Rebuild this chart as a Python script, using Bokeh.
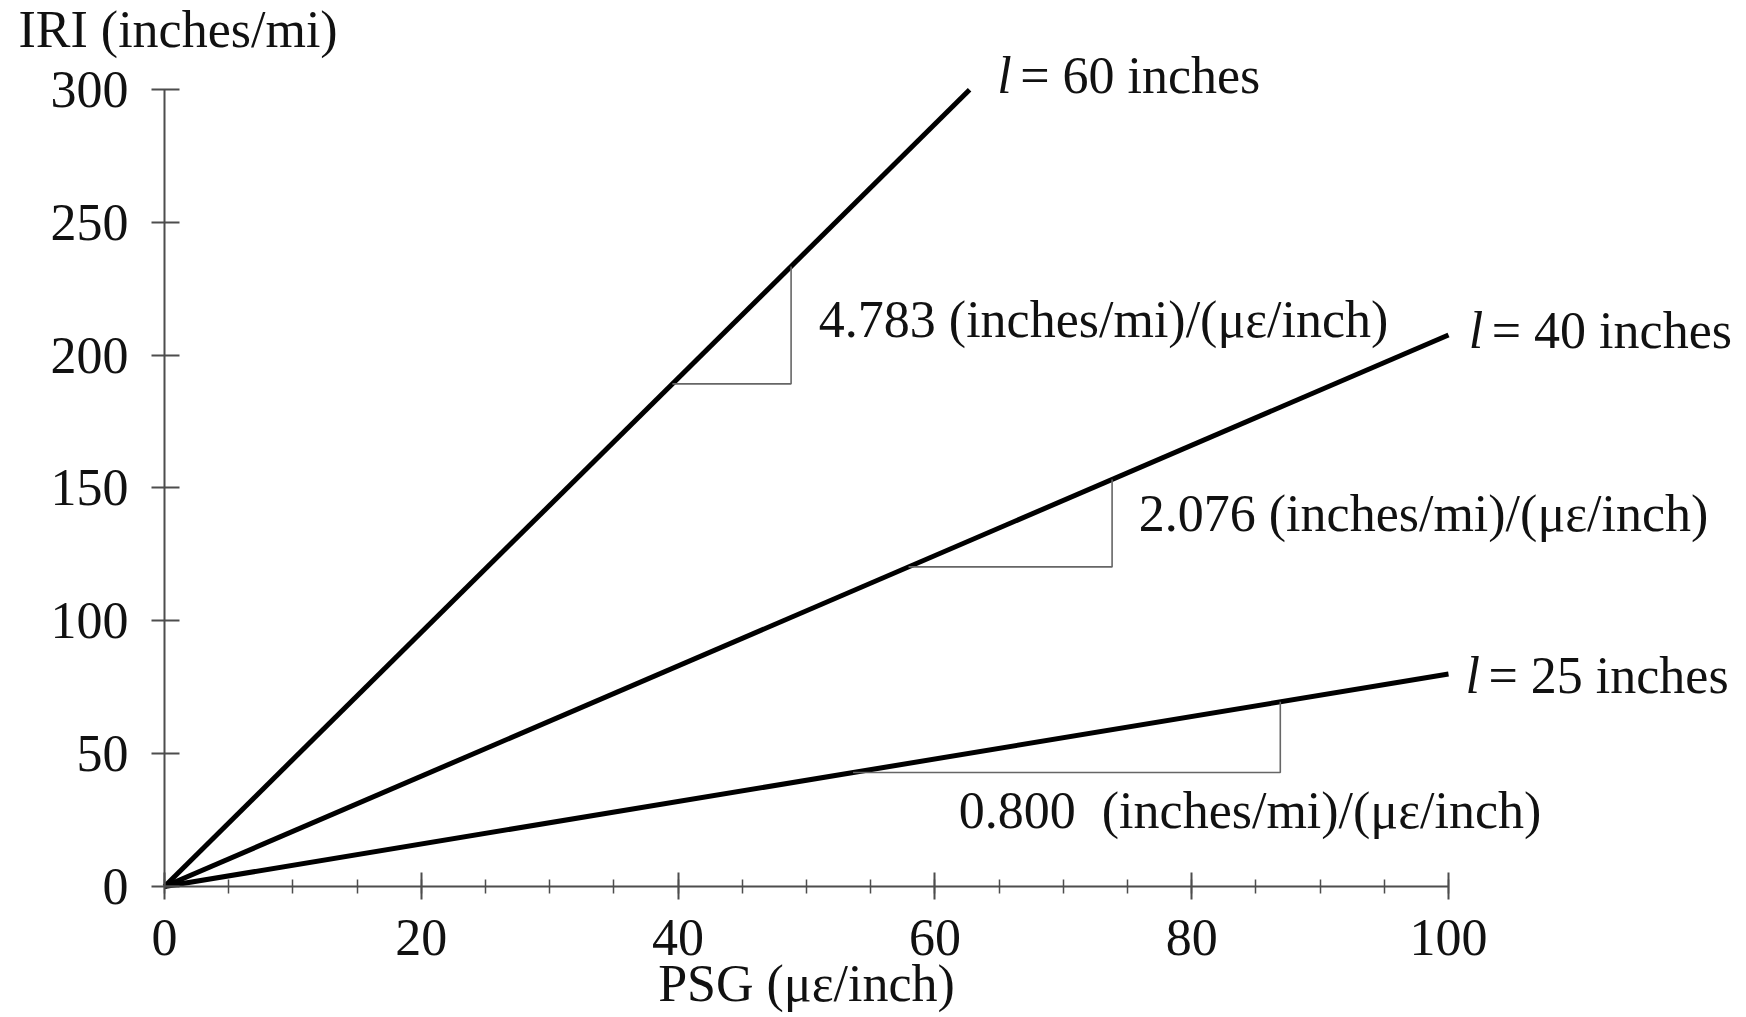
from bokeh.plotting import figure
from bokeh.models import Label, FixedTicker, Range1d
from bokeh.embed import file_html
from bokeh.resources import INLINE

# ---- data ----
gauge_lengths = ["60", "40", "25"]          # l (inches)
slopes = [4.783, 2.076, 0.800]              # (inches/mi)/(µε/inch)
psg_start = [0, 0, 0]
psg_end = [62.7, 100, 100]                  # µε/inch where each line stops
slope_texts = ["4.783 (inches/mi)/(\u03bc\u03b5/inch)",
               "2.076 (inches/mi)/(\u03bc\u03b5/inch)",
               "0.800\u00a0 (inches/mi)/(\u03bc\u03b5/inch)"]
tri_base_iri = [189.2, 120.3, 42.9]         # slope-triangle base level
tri_run_end = [48.8, 73.8, 86.9]            # slope-triangle vertical leg
x_ticks = [0, 20, 40, 60, 80, 100]
x_minor = list(range(0, 101, 5))
y_ticks = [0, 50, 100, 150, 200, 250, 300]

FONT = "Liberation Serif"
FS = "52px"
TXT = "#111111"
AX = "#4d4d4d"

# frame covers the whole canvas; axes are pinned at x=0 / y=0
p = figure(width=1746, height=1017, output_backend="svg", toolbar_location=None,
           x_range=Range1d(-12.773, 123.209), y_range=Range1d(-49.31, 333.50))
p.min_border = 0
p.min_border_left = 0
p.min_border_right = 0
p.min_border_top = 0
p.min_border_bottom = 0
p.title.visible = False
p.outline_line_color = None
p.xgrid.visible = False
p.ygrid.visible = False
p.background_fill_color = "white"
p.border_fill_color = "white"

# axes
p.xaxis.ticker = FixedTicker(ticks=x_ticks, minor_ticks=x_minor)
p.yaxis.ticker = FixedTicker(ticks=y_ticks, minor_ticks=[])
p.xaxis.fixed_location = 0
p.yaxis.fixed_location = 0
p.xaxis.bounds = (0, 100)
p.yaxis.bounds = (0, 300)
for ax in (p.xaxis, p.yaxis):
    ax.axis_line_color = AX
    ax.axis_line_width = 2
    ax.major_tick_line_color = AX
    ax.major_tick_line_width = 2
    ax.minor_tick_line_color = AX
    ax.minor_tick_line_width = 1.5
    ax.major_label_text_font = FONT
    ax.major_label_text_font_size = FS
    ax.major_label_text_color = TXT
p.xaxis.major_tick_in = 14
p.xaxis.major_tick_out = 13
p.xaxis.minor_tick_in = 7
p.xaxis.minor_tick_out = 7
p.xaxis.major_label_standoff = 21
p.yaxis.major_tick_in = 15
p.yaxis.major_tick_out = 13
p.yaxis.minor_tick_in = 0
p.yaxis.minor_tick_out = 0
p.yaxis.major_label_standoff = 23

# main lines
for s, x0, x1 in zip(slopes, psg_start, psg_end):
    p.line([x0, x1], [s * x0, s * x1], line_color="black", line_width=5)

# slope triangles
for s, yb, xr in zip(slopes, tri_base_iri, tri_run_end):
    p.line([yb / s, xr, xr], [yb, yb, s * xr], line_color="#666666", line_width=1.6)

def lab(x, y, text, style="normal", xoff=0, align="left"):
    p.add_layout(Label(x=x, y=y, text=text, x_offset=xoff,
                       text_font=FONT, text_font_size=FS, text_color=TXT,
                       text_font_style=style, text_align=align,
                       text_baseline="alphabetic"))

# line labels
line_label_pos = [(64.85, 305.3), (101.58, 209.2), (101.32, 79.3)]
for g, (lx, ly) in zip(gauge_lengths, line_label_pos):
    lab(lx, ly, "l", style="italic")
    lab(lx, ly, "= %s inches" % g, xoff=23)

# slope labels
slope_label_pos = [(50.96, 213.3), (75.88, 140.5), (61.86, 28.5)]
for t, (lx, ly) in zip(slope_texts, slope_label_pos):
    lab(lx, ly, t)

# axis titles
lab(-11.37, 322.6, "IRI (inches/mi)")
lab(50, -36.7, "PSG (\u03bc\u03b5/inch)", align="center")

open("out.html", "w").write(file_html(p, INLINE))
